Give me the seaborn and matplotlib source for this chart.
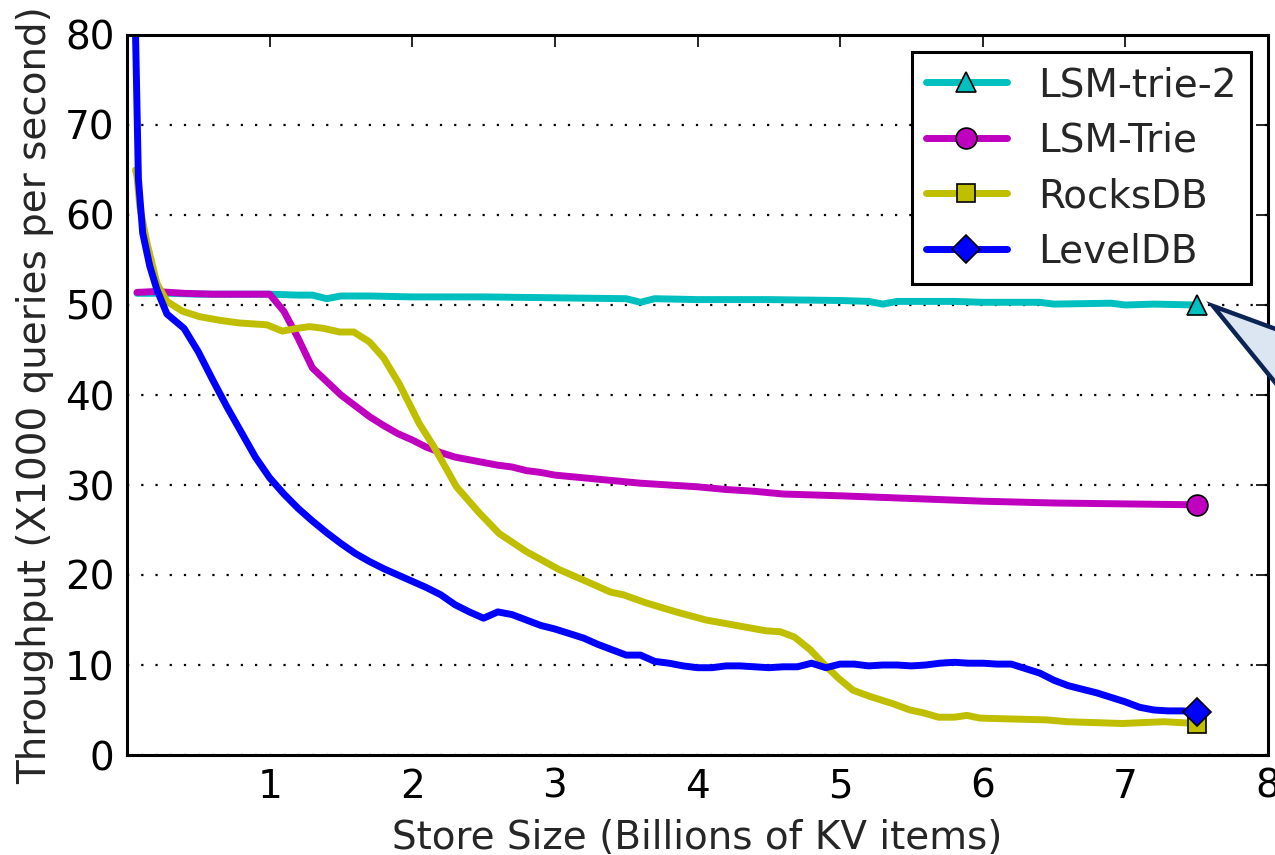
import numpy as np
import pandas as pd
import matplotlib
matplotlib.use("Agg")
import matplotlib.pyplot as plt
import seaborn as sns
from matplotlib.patches import Polygon

# data
lsm2_x = [0.07, 0.3, 0.5, 0.7, 1.0, 1.2, 1.3, 1.4, 1.5, 1.7, 2.0, 2.5, 3.0, 3.5, 3.6, 3.7,
          4.0, 4.5, 5.0, 5.2, 5.3, 5.4, 5.8, 6.0, 6.4, 6.5, 6.9, 7.0, 7.2, 7.5]
lsm2_y = [51.3, 51.3, 51.2, 51.2, 51.2, 51.1, 51.1, 50.7, 51.0, 51.0, 50.9, 50.9, 50.8, 50.7, 50.3, 50.7,
          50.6, 50.6, 50.5, 50.4, 50.1, 50.4, 50.4, 50.3, 50.3, 50.1, 50.2, 50.0, 50.1, 50.0]

lsm_x = [0.07, 0.2, 0.4, 0.6, 0.8, 1.0, 1.1, 1.2, 1.3, 1.4, 1.5, 1.6, 1.7, 1.8, 1.9, 2.0,
         2.1, 2.2, 2.3, 2.4, 2.5, 2.6, 2.7, 2.8, 2.9, 3.0, 3.2, 3.4, 3.6, 3.8, 4.0, 4.2,
         4.4, 4.6, 4.8, 5.0, 5.5, 6.0, 6.5, 7.0, 7.5]
lsm_y = [51.4, 51.5, 51.3, 51.2, 51.2, 51.2, 49.3, 46.3, 43.0, 41.5, 40.0, 38.8, 37.6, 36.6, 35.7, 35.0,
         34.2, 33.6, 33.1, 32.8, 32.5, 32.2, 32.0, 31.6, 31.4, 31.1, 30.8, 30.5, 30.2, 30.0, 29.8, 29.5,
         29.3, 29.0, 28.9, 28.8, 28.5, 28.2, 28.0, 27.9, 27.8]

rocks_x = [0.06, 0.07, 0.09, 0.14, 0.21, 0.28, 0.39, 0.51, 0.65, 0.79, 0.98, 1.09, 1.19, 1.28,
           1.38, 1.49, 1.59, 1.70, 1.80, 1.91, 2.05, 2.15, 2.31, 2.47, 2.61, 2.80, 3.03, 3.22,
           3.39, 3.48, 3.64, 3.85, 4.06, 4.27, 4.48, 4.58, 4.68, 4.79, 4.88, 4.99, 5.09, 5.21,
           5.37, 5.49, 5.58, 5.69, 5.80, 5.89, 5.98, 6.21, 6.45, 6.59, 6.98, 7.27, 7.5]
rocks_y = [65.0, 64.3, 60.9, 56.9, 52.4, 50.4, 49.3, 48.7, 48.3, 48.0, 47.8, 47.1, 47.4, 47.6,
           47.4, 47.0, 47.0, 45.9, 44.1, 41.2, 36.8, 34.3, 29.8, 26.9, 24.6, 22.6, 20.6, 19.3,
           18.1, 17.8, 16.9, 15.9, 15.0, 14.4, 13.8, 13.7, 13.1, 11.7, 10.2, 8.5, 7.2, 6.5,
           5.7, 5.0, 4.7, 4.2, 4.2, 4.4, 4.1, 4.0, 3.9, 3.7, 3.5, 3.7, 3.5]

level_x = [0.05, 0.08, 0.11, 0.16, 0.21, 0.28, 0.4, 0.5, 0.6, 0.7, 0.8, 0.9, 1.0, 1.1, 1.2,
           1.3, 1.4, 1.5, 1.6, 1.7, 1.8, 1.9, 2.0, 2.1, 2.2, 2.3, 2.4, 2.5, 2.6, 2.7, 2.8,
           2.9, 3.0, 3.1, 3.2, 3.3, 3.4, 3.5, 3.6, 3.7, 3.8, 3.9, 4.0, 4.1, 4.2, 4.3, 4.4,
           4.5, 4.6, 4.7, 4.8, 4.9, 5.0, 5.1, 5.2, 5.3, 5.4, 5.5, 5.6, 5.7, 5.8, 5.9, 6.0,
           6.1, 6.2, 6.3, 6.4, 6.5, 6.6, 6.7, 6.8, 6.9, 7.0, 7.1, 7.2, 7.3, 7.4, 7.5]
level_y = [88.0, 64.0, 58.0, 54.3, 51.7, 49.0, 47.4, 44.8, 41.7, 38.7, 35.9, 33.1, 30.8, 29.0, 27.4,
           26.0, 24.7, 23.5, 22.4, 21.5, 20.7, 20.0, 19.3, 18.6, 17.8, 16.7, 15.9, 15.2, 15.9, 15.6, 15.0,
           14.4, 14.0, 13.5, 13.0, 12.3, 11.7, 11.1, 11.1, 10.4, 10.2, 9.9, 9.7, 9.7, 9.9, 9.9, 9.8,
           9.7, 9.8, 9.8, 10.2, 9.7, 10.1, 10.1, 9.9, 10.0, 10.0, 9.9, 10.0, 10.2, 10.3, 10.2, 10.2,
           10.1, 10.1, 9.6, 9.1, 8.3, 7.7, 7.3, 6.9, 6.4, 5.9, 5.3, 5.0, 4.9, 4.9, 4.8]

series = [
    ("LSM-trie-2", lsm2_x, lsm2_y, (0.0, 0.75, 0.75), "^"),
    ("LSM-Trie", lsm_x, lsm_y, (0.75, 0.0, 0.75), "o"),
    ("RocksDB", rocks_x, rocks_y, (0.75, 0.75, 0.0), "s"),
    ("LevelDB", level_x, level_y, (0.0, 0.0, 1.0), "D"),
]
marker_sizes = {"^": 15, "o": 15, "s": 13.5, "D": 14}

sns.set_style("white")
plt.rcParams["font.family"] = ["DejaVu Sans"]

fig = plt.figure(figsize=(12.75, 8.55), dpi=100)
ax = fig.add_axes([127 / 1275, 100 / 855, 1141 / 1275, 720 / 855])

for name, xs, ys, col, mk in series:
    df = pd.DataFrame({"x": xs, "y": ys})
    sns.lineplot(data=df, x="x", y="y", ax=ax, color=col, linewidth=5,
                 marker=mk, markevery=[len(xs) - 1], markersize=marker_sizes[mk],
                 markeredgecolor="black", markeredgewidth=1.2, label=name)

ax.set_xlim(0, 8)
ax.set_ylim(0, 80)
ax.set_xticks(range(1, 9))
ax.set_yticks(range(0, 81, 10))
ax.yaxis.grid(True, linestyle=(0, (1, 5.4)), color="black", linewidth=1.6)
ax.xaxis.grid(False)
ax.tick_params(direction="in", length=8.5, width=1.2, top=True, right=True,
               labelsize=28, colors="black", pad=9)
for sp in ax.spines.values():
    sp.set_visible(True)
    sp.set_color("black")
    sp.set_linewidth(2.2)

ax.set_xlabel("Store Size (Billions of KV items)", fontsize=28, labelpad=10)
ax.set_ylabel("Throughput (X1000 queries per second)", fontsize=28, labelpad=8)

leg = ax.legend(loc="upper right", fontsize=28, numpoints=1, fancybox=False,
                framealpha=1, edgecolor="black", handlelength=2.1,
                borderaxespad=0.45, labelspacing=0.45, handletextpad=0.8,
                borderpad=0.35)
leg.get_frame().set_linewidth(2.2)

# callout shape pointing at the LSM-trie-2 end point (partly outside the crop)
callout = Polygon([(1213 / 1275, 1 - 306 / 855), (1330 / 1275, 1 - 349 / 855),
                   (1330 / 1275, 1 - 450 / 855)], closed=True,
                  transform=fig.transFigure, facecolor="#dce6f2",
                  edgecolor="#0c2454", linewidth=3.2, clip_on=False)
fig.patches.append(callout)

fig.savefig("out.png", dpi=100)
